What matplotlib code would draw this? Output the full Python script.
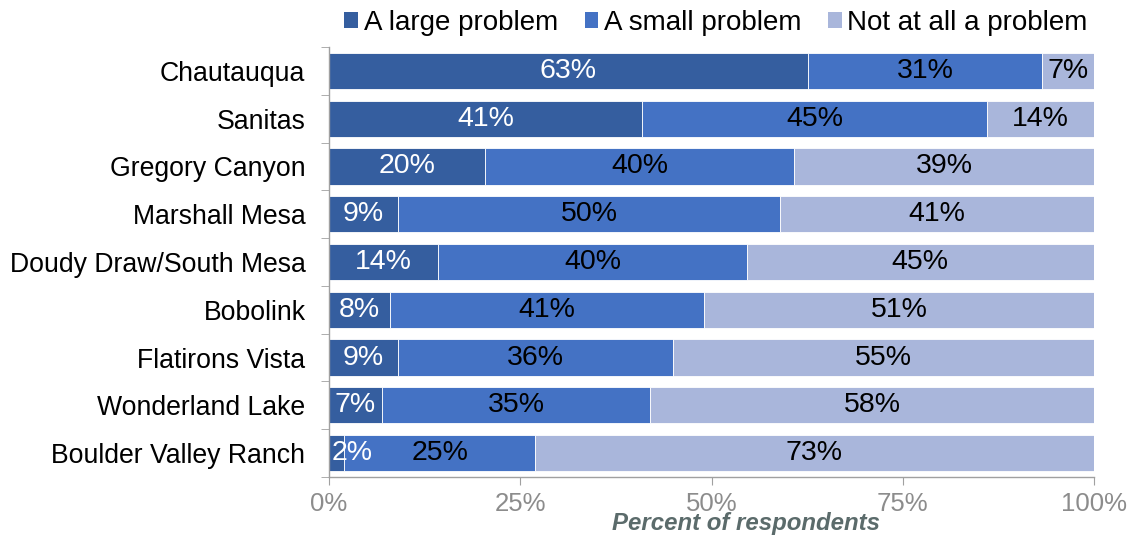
import matplotlib
matplotlib.use("Agg")
import matplotlib.pyplot as plt
from matplotlib.patches import Patch
import numpy as np

plt.rcParams['font.family'] = ['Liberation Sans', 'DejaVu Sans']

categories = ["Chautauqua", "Sanitas", "Gregory Canyon", "Marshall Mesa",
              "Doudy Draw/South Mesa", "Bobolink", "Flatirons Vista",
              "Wonderland Lake", "Boulder Valley Ranch"]
large_problem = [62.6, 40.9, 20.4, 9.0, 14.3, 8.0, 9.0, 6.9, 2.0]
small_problem = [30.6, 45.1, 40.4, 50.0, 40.3, 41.0, 36.0, 35.1, 24.9]
not_a_problem = [6.8, 14.0, 39.2, 41.0, 45.4, 51.0, 55.0, 58.0, 73.1]
series_names = ["A large problem", "A small problem", "Not at all a problem"]
tick_values = [0, 25, 50, 75, 100]
tick_labels = ["0%", "25%", "50%", "75%", "100%"]

colors = ["#355E9F", "#4472C4", "#A9B6DB"]
text_colors = ["white", "black", "black"]

fig = plt.figure(figsize=(11.33, 5.35), dpi=100)
ax = fig.add_axes([0.2904, 0.1084, 0.6752, 0.8037])

y = np.arange(len(categories))
left = np.zeros(len(categories))
for vals, col, tcol in zip([large_problem, small_problem, not_a_problem], colors, text_colors):
    vals = np.array(vals)
    bars = ax.barh(y, vals, left=left, height=0.76, color=col,
                   edgecolor="white", linewidth=0.6)
    for b, v in zip(bars, vals):
        cy = b.get_y() + b.get_height() / 2
        if v < 4:
            # too narrow to center the label inside the segment
            ax.text(b.get_x() + 0.4, cy, f"{v:.0f}%", ha="left", va="center",
                    color=tcol, fontsize=20.5)
        else:
            ax.text(b.get_x() + b.get_width() / 2, cy, f"{v:.0f}%",
                    ha="center", va="center", color=tcol, fontsize=20.5)
    left += vals

ax.set_xlim(0, 100)
ax.set_ylim(len(categories) - 0.5, -0.5)
ax.set_xticks(tick_values)
ax.set_xticklabels(tick_labels, color="#8C8C8C", fontsize=18.5)
ax.set_yticks(y)
ax.set_yticklabels(categories, fontsize=19.2, color="black")
ax.tick_params(axis="y", length=0, pad=17)
ax.set_yticks(np.arange(-0.5, len(categories), 1), minor=True)
ax.tick_params(axis="y", which="minor", length=6, color="#A0A0A0")
ax.tick_params(axis="x", length=6, color="#A0A0A0", pad=5)

for s in ["top", "right"]:
    ax.spines[s].set_visible(False)
for s in ["left", "bottom"]:
    ax.spines[s].set_color("#A0A0A0")
    ax.spines[s].set_linewidth(1.0)

ax.set_xlabel("Percent of respondents", fontsize=17.3, fontweight="bold",
              fontstyle="italic", color="#5B6B6B")
ax.xaxis.label.set_va("center")
ax.xaxis.set_label_coords(0.545, -0.108)

handles = [Patch(facecolor=c, edgecolor="none") for c in colors]
fig.legend(handles, series_names, loc="center", bbox_to_anchor=(0.632, 0.957),
           ncol=3, frameon=False, fontsize=20, handlelength=0.5,
           handleheight=0.5, handletextpad=0.2, columnspacing=0.95)

fig.savefig("out.png", dpi=100)
